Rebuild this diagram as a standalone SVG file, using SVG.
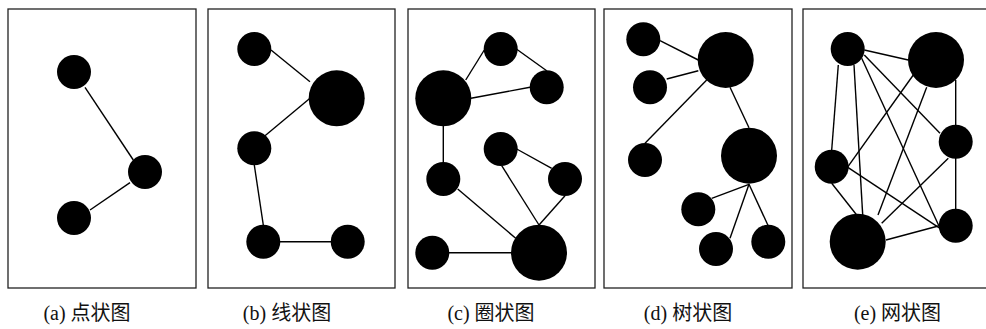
<svg xmlns="http://www.w3.org/2000/svg" width="986" height="329" viewBox="0 0 986 329">
  <style>
    .frame { fill: #fff; stroke: #222; stroke-width: 1.3; }
    .edges line { stroke: #000; stroke-width: 1.4; }
    .node { fill: #000; }
    .cap { font-family: "Liberation Serif", "Noto Sans CJK SC", serif; font-size: 20px; fill: #111; text-anchor: middle; }
  </style>
  <rect width="986" height="329" fill="#fff"/>

  <!-- (a) dot graph -->
  <g id="panel-a">
    <rect class="frame" x="8" y="9" width="188" height="279"/>
    <g class="edges">
      <line x1="85" y1="87.3" x2="133.3" y2="160"/>
      <line x1="130" y1="182.7" x2="90" y2="210"/>
    </g>
    <g id="a-n1"><circle class="node" cx="74" cy="72" r="17"/></g>
    <g id="a-n2"><circle class="node" cx="145" cy="172" r="17"/></g>
    <g id="a-n3"><circle class="node" cx="74" cy="218" r="17"/></g>
    <text class="cap" x="87" y="320">(a) 点状图</text>
  </g>

  <!-- (b) line graph -->
  <g id="panel-b">
    <rect class="frame" x="208" y="9" width="187" height="279"/>
    <g class="edges">
      <line x1="271" y1="50" x2="310" y2="81.7"/>
      <line x1="310" y1="98.3" x2="265" y2="135.7"/>
      <line x1="254.3" y1="165" x2="263.3" y2="225"/>
      <line x1="280" y1="241.7" x2="331.7" y2="241.7"/>
    </g>
    <g id="b-n1"><circle class="node" cx="254.3" cy="49" r="17"/></g>
    <g id="b-n2"><circle class="node" cx="336.7" cy="98.3" r="28"/></g>
    <g id="b-n3"><circle class="node" cx="254.3" cy="148.3" r="17"/></g>
    <g id="b-n4"><circle class="node" cx="263.3" cy="241.7" r="17"/></g>
    <g id="b-n5"><circle class="node" cx="347.7" cy="241.7" r="17"/></g>
    <text class="cap" x="287" y="320">(b) 线状图</text>
  </g>

  <!-- (c) ring graph -->
  <g id="panel-c">
    <rect class="frame" x="408" y="9" width="187" height="279"/>
    <g class="edges">
      <line x1="484.3" y1="50" x2="465.7" y2="80"/>
      <line x1="516.7" y1="49.3" x2="546.7" y2="70.7"/>
      <line x1="471" y1="98.3" x2="530" y2="87.3"/>
      <line x1="443.3" y1="126" x2="443.3" y2="163.3"/>
      <line x1="516.7" y1="149" x2="551.7" y2="168.3"/>
      <line x1="501.7" y1="165.7" x2="539" y2="225"/>
      <line x1="565" y1="195.7" x2="539" y2="225"/>
      <line x1="457.7" y1="189" x2="515.7" y2="238.3"/>
      <line x1="449" y1="252.7" x2="511.7" y2="252.7"/>
    </g>
    <g id="c-n1"><circle class="node" cx="500.7" cy="49" r="17"/></g>
    <g id="c-n2"><circle class="node" cx="546.7" cy="87.3" r="17"/></g>
    <g id="c-n3"><circle class="node" cx="443.3" cy="98.3" r="28"/></g>
    <g id="c-n4"><circle class="node" cx="500.7" cy="149" r="17"/></g>
    <g id="c-n5"><circle class="node" cx="565" cy="179" r="17"/></g>
    <g id="c-n6"><circle class="node" cx="443.3" cy="179" r="17"/></g>
    <g id="c-n7"><circle class="node" cx="432.3" cy="252.7" r="17"/></g>
    <g id="c-n8"><circle class="node" cx="539" cy="252.7" r="28"/></g>
    <text class="cap" x="491" y="320">(c) 圈状图</text>
  </g>

  <!-- (d) tree graph -->
  <g id="panel-d">
    <rect class="frame" x="604" y="9" width="188" height="279"/>
    <g class="edges">
      <line x1="660" y1="40.7" x2="698.3" y2="60"/>
      <line x1="666.7" y1="79" x2="698.3" y2="70.7"/>
      <line x1="645" y1="143.3" x2="706.7" y2="80"/>
      <line x1="730" y1="87.3" x2="749" y2="127.7"/>
      <line x1="749" y1="184.3" x2="711.7" y2="198.3"/>
      <line x1="749" y1="184.3" x2="730" y2="238.3"/>
      <line x1="749" y1="184.3" x2="768.3" y2="226"/>
    </g>
    <g id="d-n1"><circle class="node" cx="643.3" cy="39.3" r="17"/></g>
    <g id="d-n2"><circle class="node" cx="725.7" cy="60" r="28"/></g>
    <g id="d-n3"><circle class="node" cx="650" cy="87.3" r="17"/></g>
    <g id="d-n4"><circle class="node" cx="645" cy="160" r="17"/></g>
    <g id="d-n5"><circle class="node" cx="749" cy="155.7" r="28"/></g>
    <g id="d-n6"><circle class="node" cx="698.3" cy="209.3" r="17"/></g>
    <g id="d-n7"><circle class="node" cx="716" cy="249" r="17"/></g>
    <g id="d-n8"><circle class="node" cx="768.3" cy="241.7" r="17"/></g>
    <text class="cap" x="688" y="320">(d) 树状图</text>
  </g>

  <!-- (e) mesh graph -->
  <g id="panel-e">
    <rect class="frame" x="803" y="9" width="188" height="279"/>
    <g class="edges">
      <line x1="864.3" y1="50" x2="908.3" y2="60"/>
      <line x1="838.3" y1="65" x2="831.7" y2="150"/>
      <line x1="854" y1="65" x2="862.7" y2="215"/>
      <line x1="861.7" y1="58.3" x2="940" y2="228.3"/>
      <line x1="864.3" y1="55" x2="940" y2="133.3"/>
      <line x1="913.3" y1="75" x2="846.7" y2="168.3"/>
      <line x1="926.7" y1="87.3" x2="878" y2="215"/>
      <line x1="955.7" y1="80" x2="955.7" y2="125"/>
      <line x1="955.7" y1="158" x2="955.7" y2="209"/>
      <line x1="948.3" y1="158.3" x2="881.7" y2="223.3"/>
      <line x1="831.7" y1="183.3" x2="856.7" y2="215"/>
      <line x1="846.7" y1="166.7" x2="940" y2="228.3"/>
      <line x1="886" y1="240" x2="938.3" y2="226"/>
    </g>
    <g id="e-n1"><circle class="node" cx="847.7" cy="49" r="17"/></g>
    <g id="e-n2"><circle class="node" cx="936" cy="60" r="28"/></g>
    <g id="e-n3"><circle class="node" cx="955.7" cy="141.7" r="17"/></g>
    <g id="e-n4"><circle class="node" cx="831.7" cy="166.7" r="17"/></g>
    <g id="e-n5"><circle class="node" cx="857.7" cy="241.7" r="28"/></g>
    <g id="e-n6"><circle class="node" cx="955.7" cy="225.7" r="17"/></g>
    <text class="cap" x="897.5" y="320">(e) 网状图</text>
  </g>
</svg>
